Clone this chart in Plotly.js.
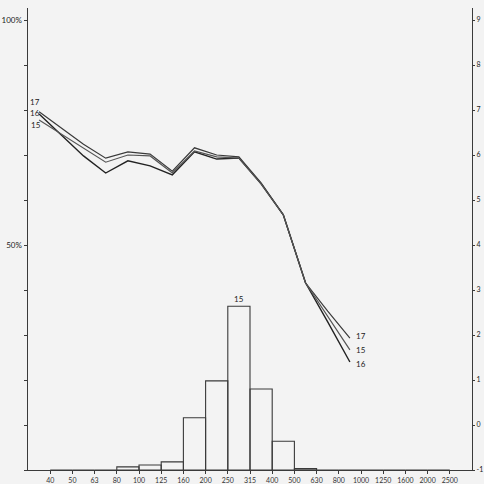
<!DOCTYPE html>
<html>
<head>
<meta charset="utf-8">
<script src="https://cdn.plot.ly/plotly-3.0.1.min.js"></script>
<style>
  html, body { margin: 0; padding: 0; background: #f3f3f3; }
  #chart { width: 484px; height: 484px; }
</style>
</head>
<body>
<div id="chart"></div>
<script>
// Frequency tick labels (bin edges along the bottom axis)
const freqLabels = ["40","50","63","80","100","125","160","200","250","315","400","500","630","800","1000","1250","1600","2000","2500"];

// Curve values (% on the left axis), one per band, 15 bands
const curve17 = [79.6, 76.0, 72.4, 69.3, 70.7, 70.2, 66.4, 71.6, 70.0, 69.6, 63.8, 56.7, 41.6, 35.3, 29.3];
const curve16 = [79.1, 74.4, 69.8, 66.0, 68.7, 67.6, 65.6, 70.7, 69.1, 69.3, 63.6, 56.7, 41.6, 32.9, 24.0];
const curve15 = [77.8, 74.7, 71.6, 68.4, 70.0, 69.8, 66.0, 70.9, 69.6, 69.3, 63.6, 56.7, 41.6, 34.2, 26.7];

// Histogram (%), one per bin starting at each frequency label
const histValues = [0, 0, 0, 0.7, 1.1, 1.8, 11.6, 19.8, 36.4, 18.0, 6.4, 0.3, 0, 0, 0, 0, 0, 0];

// Left and right axis ticks
const leftTicks = [0,10,20,30,40,50,60,70,80,90,100];
const leftTickText = ["","","","","","50%","","","","","100%"];
const rightTicks = [-1,0,1,2,3,4,5,6,7,8,9];
const rightTickText = ["-1","0","1","2","3","4","5","6","7","8","9"];

const tickPos = freqLabels.map((_, i) => i);
const bandPos = curve17.map((_, i) => i - 0.5);
const binPos = histValues.map((_, i) => i + 0.5);

const ink = "#3a3a3a";
const fontFam = "Lato, 'DejaVu Sans', sans-serif";

const traces = [
  {x: binPos, y: histValues, type: "bar", width: 1,
   marker: {color: "rgba(0,0,0,0)", line: {color: ink, width: 1.1}},
   hoverinfo: "skip", showlegend: false},
  {x: bandPos, y: curve17, type: "scatter", mode: "lines", line: {color: ink, width: 1.2}, showlegend: false},
  {x: bandPos, y: curve16, type: "scatter", mode: "lines", line: {color: "#222", width: 1.4}, showlegend: false},
  {x: bandPos, y: curve15, type: "scatter", mode: "lines", line: {color: "#555", width: 1.2}, showlegend: false},
  {x: [0], y: [0], yaxis: "y2", type: "scatter", mode: "markers", marker: {opacity: 0}, showlegend: false, hoverinfo: "skip"}
];

const last = curve17.length - 1;
const lblFont = {family: fontFam, size: 8, color: "#222"};
const annotations = [
  {x: bandPos[0], y: curve17[0], text: "17", showarrow: false, xanchor: "left", xshift: -11, yshift: 10, font: lblFont},
  {x: bandPos[0], y: curve16[0], text: "16", showarrow: false, xanchor: "left", xshift: -11, yshift: 1, font: lblFont},
  {x: bandPos[0], y: curve15[0], text: "15", showarrow: false, xanchor: "left", xshift: -10, yshift: -5, font: lblFont},
  {x: bandPos[last], y: curve17[last], text: "17", showarrow: false, xanchor: "left", xshift: 4, yshift: 2, font: lblFont},
  {x: bandPos[last], y: curve15[last], text: "15", showarrow: false, xanchor: "left", xshift: 4, yshift: 0, font: lblFont},
  {x: bandPos[last], y: curve16[last], text: "16", showarrow: false, xanchor: "left", xshift: 4, yshift: -2, font: lblFont},
  {x: binPos[8], y: histValues[8], text: "15", showarrow: false, yanchor: "bottom", yshift: 0, font: lblFont}
];

const layout = {
  width: 484, height: 484,
  margin: {l: 28, r: 12, t: 8, b: 14},
  paper_bgcolor: "#f3f3f3", plot_bgcolor: "#f3f3f3",
  showlegend: false,
  bargap: 0,
  xaxis: {range: [-1, 19], tickvals: tickPos, ticktext: freqLabels,
          showgrid: false, zeroline: false, showline: true, linecolor: ink, linewidth: 1.2,
          ticks: "outside", ticklen: 3, tickcolor: ink,
          tickfont: {family: fontFam, size: 7, color: "#333"}},
  yaxis: {range: [0, 102.67], tickvals: leftTicks, ticktext: leftTickText,
          showgrid: false, zeroline: false, showline: true, linecolor: ink, linewidth: 1.5,
          ticks: "outside", ticklen: 3, tickcolor: ink,
          tickfont: {family: fontFam, size: 8, color: "#222"}},
  yaxis2: {range: [-1, 9.267], overlaying: "y", side: "right", tickvals: rightTicks, ticktext: rightTickText,
           showgrid: false, zeroline: false, showline: true, linecolor: ink, linewidth: 1.2,
           ticks: "outside", ticklen: 2, tickcolor: ink,
           tickfont: {family: fontFam, size: 7, color: "#222"}},
  annotations: annotations
};

Plotly.newPlot("chart", traces, layout, {displayModeBar: false, staticPlot: true});
</script>
</body>
</html>
